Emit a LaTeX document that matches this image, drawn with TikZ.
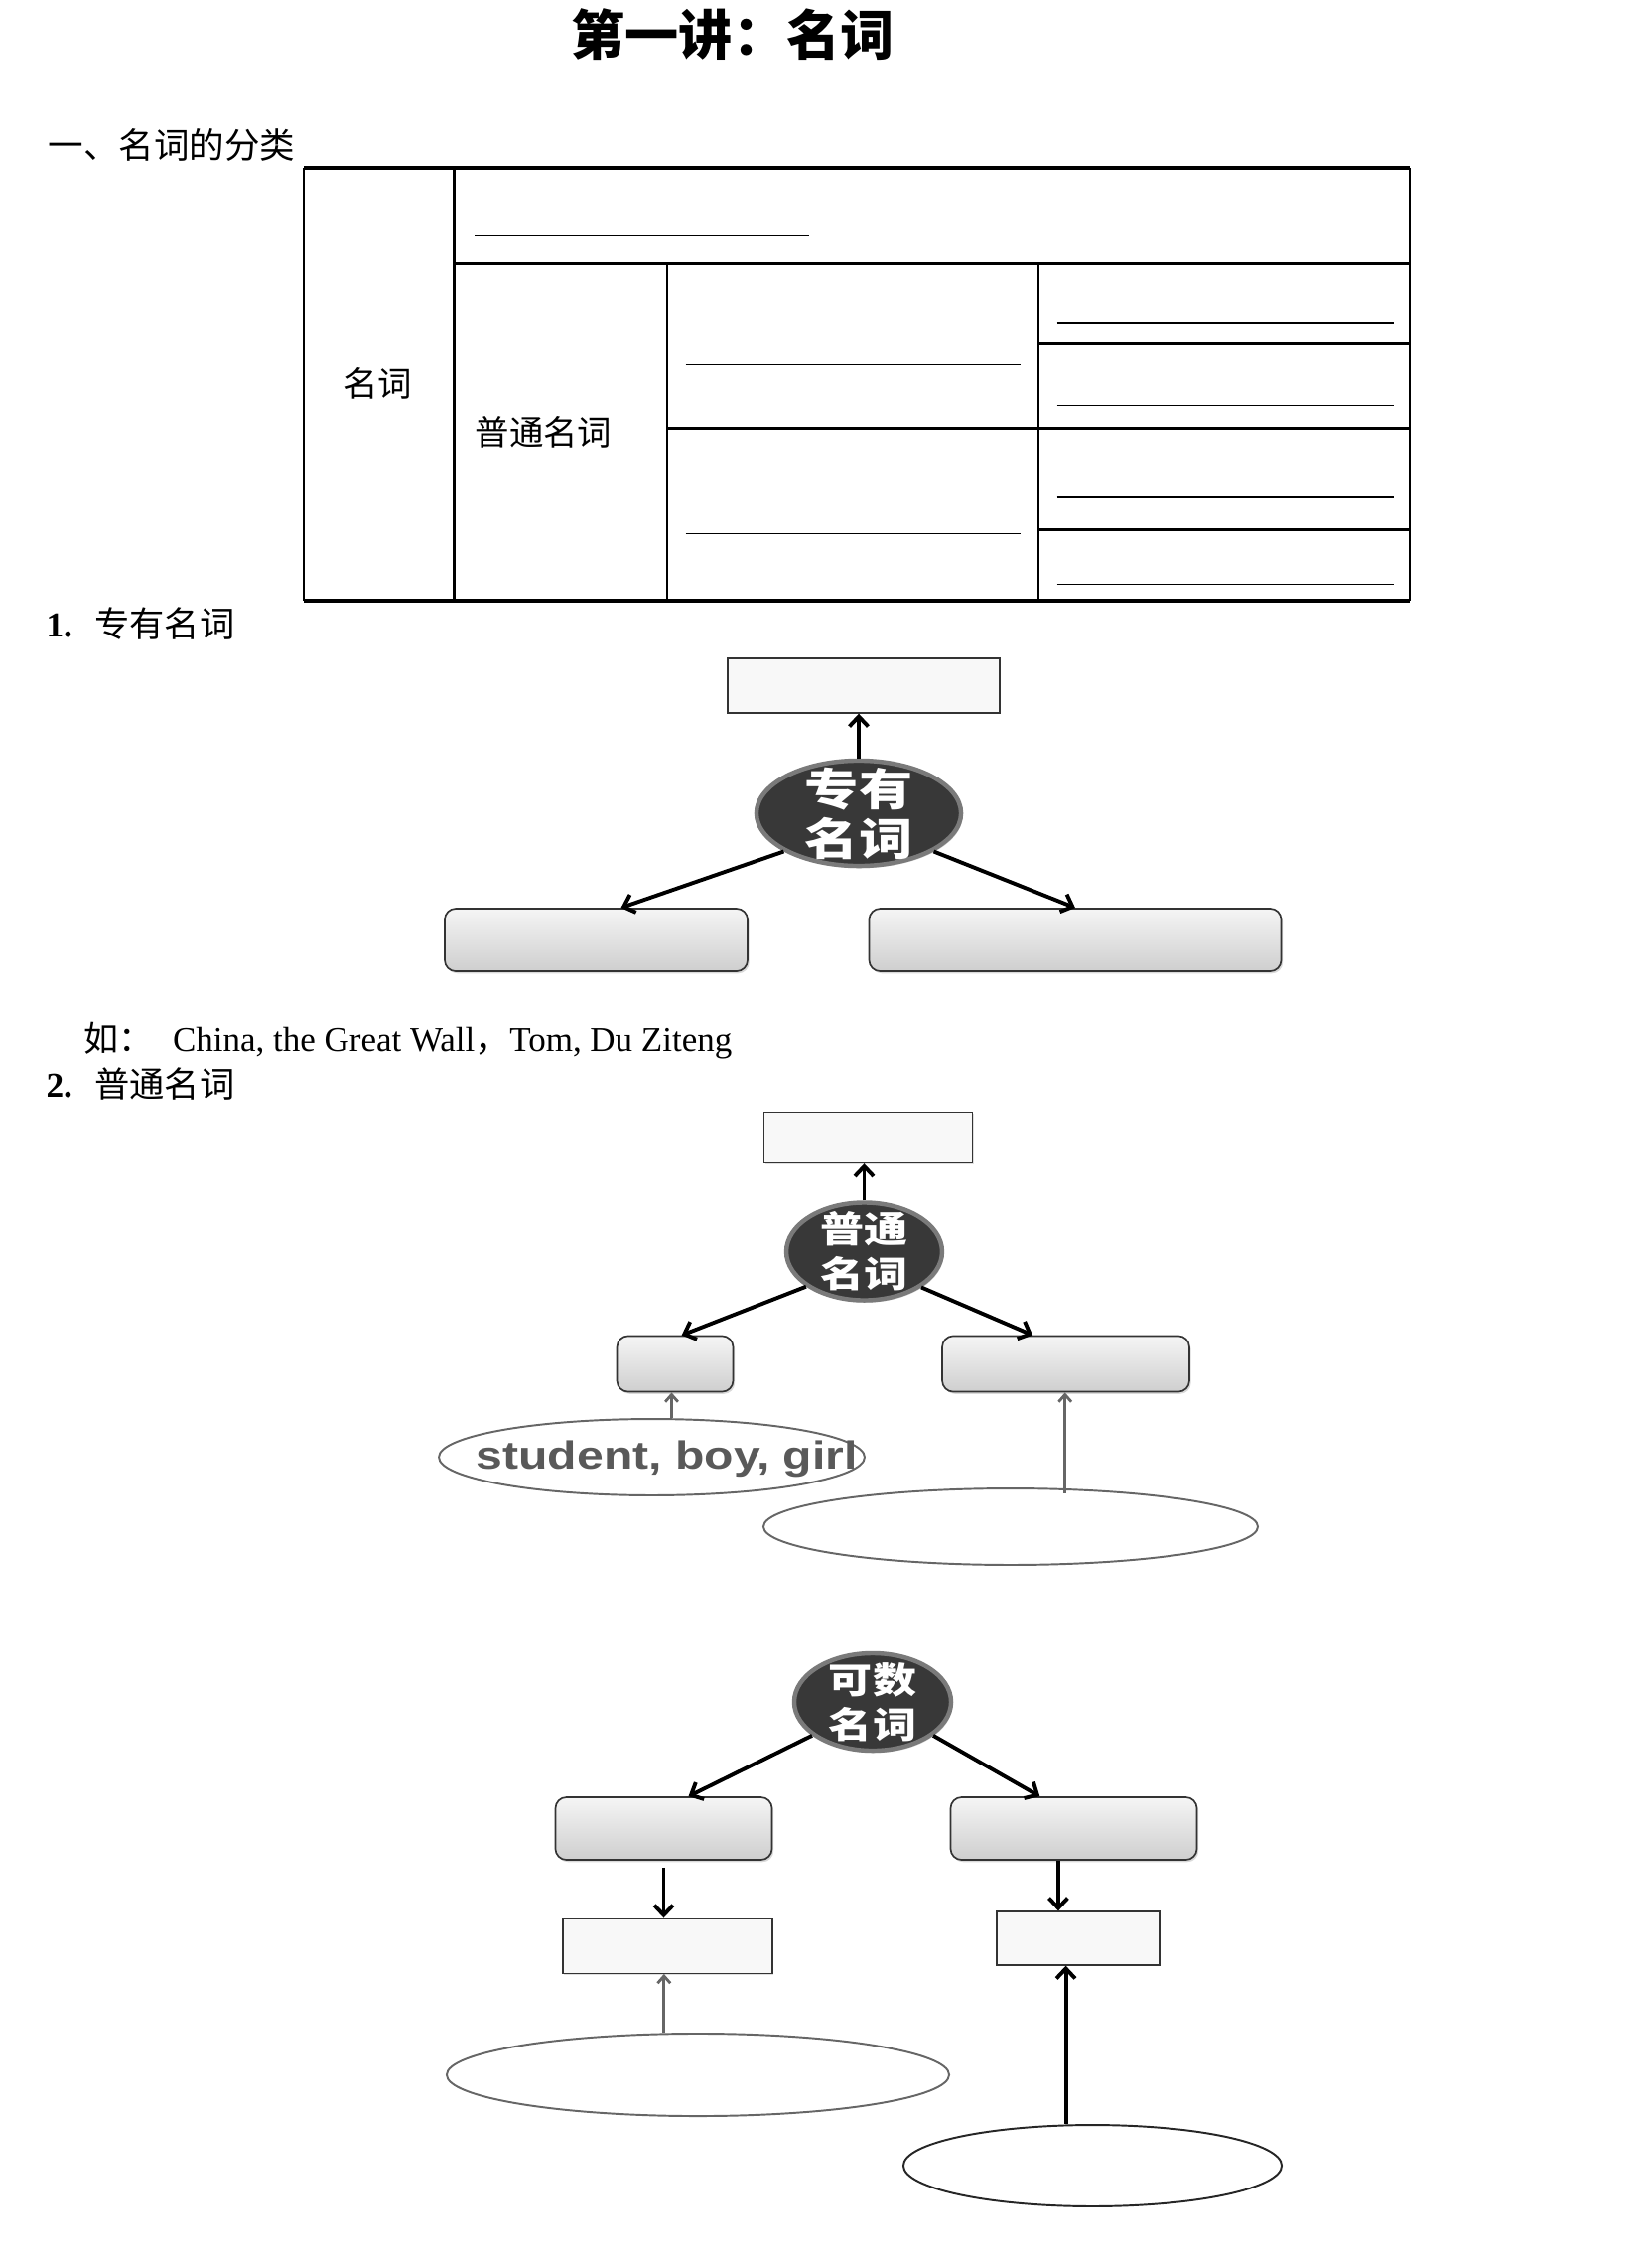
\documentclass[tikz,border=0pt]{standalone}
\usepackage{fontspec}
\setmainfont{Liberation Serif}
\newfontfamily\cjk{Noto Sans CJK SC}
\newfontfamily\cjkwide[FakeStretch=1.22]{Noto Sans CJK SC}
\newfontfamily\sanswide[FakeStretch=1.22]{Liberation Sans}
\usetikzlibrary{arrows.meta}
\usetikzlibrary{shapes.geometric}
\usetikzlibrary{shadows}
\definecolor{headfill}{HTML}{383838}
\definecolor{headring}{HTML}{7A7A7A}
\definecolor{boxline}{HTML}{333333}
\definecolor{pale}{HTML}{F8F8F8}
\definecolor{hintgray}{HTML}{666666}
\definecolor{wordgray}{HTML}{595959}

\begin{document}
\begin{tikzpicture}[x=0.36pt,y=-0.36pt,
    head/.style={ellipse,fill=headfill,draw=headring,line width=1.6pt,inner sep=0pt,
      drop shadow={opacity=0.35,shadow xshift=0.6pt,shadow yshift=-0.8pt}},
    slot/.style={rectangle,draw=boxline,fill=pale,line width=0.5pt,inner sep=0pt,
      drop shadow={opacity=0.25,shadow xshift=0.5pt,shadow yshift=-0.5pt}},
    bar/.style={rectangle,rounded corners=4pt,draw=boxline,line width=0.6pt,inner sep=0pt,
      top color=gray!8,bottom color=gray!38,
      drop shadow={opacity=0.3,shadow xshift=0.6pt,shadow yshift=-0.8pt}},
    oval/.style={ellipse,draw=hintgray,line width=0.7pt,inner sep=0pt},
    link/.style={-{Straight Barb[length=3.6pt,width=6.8pt]},line width=1.4pt},
    hint/.style={-{Straight Barb[length=2.6pt,width=4.6pt]},line width=1pt,draw=hintgray},
    rule/.style={line width=0.5pt}]
\useasboundingbox (0,0) rectangle (1664,2275);

\node[font=\fontsize{19.5}{22}\selectfont\cjk\bfseries] (title) at (738,35) {第一讲：名词};
\node[anchor=west,inner sep=0pt,font=\fontsize{12.8}{15}\selectfont\cjk] (sec) at (48,146) {一、名词的分类};

\draw[line width=1.1pt] (306,169) -- (1420,169);
\draw[line width=1.1pt] (306,605) -- (1420,605);
\draw[line width=0.9pt] (306,169) -- (306,605);
\draw[line width=0.9pt] (1420,169) -- (1420,605);
\draw[line width=0.9pt] (457.5,169) -- (457.5,605);
\draw[line width=0.9pt] (457.5,265.7) -- (1420,265.7);
\draw[line width=0.9pt] (672,265.7) -- (672,605);
\draw[line width=0.9pt] (1046,265.7) -- (1046,605);
\draw[line width=0.9pt] (672,431.7) -- (1420,431.7);
\draw[line width=0.9pt] (1046,345.7) -- (1420,345.7);
\draw[line width=0.9pt] (1046,533.3) -- (1420,533.3);
\draw[rule] (478,237.3) -- (815,237.3);
\draw[rule] (690.7,367.3) -- (1028,367.3);
\draw[rule] (690.7,537.3) -- (1028,537.3);
\foreach \y in {325,408.3,501,588.3}
    \draw[rule] (1064.7,\y) -- (1403.6,\y);
\node[font=\fontsize{12.4}{15}\selectfont\cjk] (noun) at (380.5,386.7) {名词};
\node[anchor=west,inner sep=0pt,font=\fontsize{12.4}{15}\selectfont\cjk] (common) at (478,435) {普通名词};

\node[anchor=west,inner sep=0pt,font=\fontsize{12.7}{15}\selectfont] (h1) at (46,628) {\textbf{1.}\hspace{8pt}{\cjk 专有名词}};

\node[slot,minimum width=98.6pt,minimum height=19.8pt] (t1) at (870,690.5) {};
\node[head,minimum width=74.2pt,minimum height=38.2pt,
    label={[text=white,align=center,font=\fontsize{16}{18}\selectfont\cjkwide\bfseries]center:专有\\名词}] (c1) at (865,819) {};
\node[bar,minimum width=109.8pt,minimum height=22.7pt] (l1) at (600.5,946.5) {};
\node[bar,minimum width=149.4pt,minimum height=22.7pt] (r1) at (1083,946.5) {};
\draw[link] (c1.north) -- (c1.north |- t1.south);
\draw[link] (c1.207) -- ([xshift=9pt]l1.north);
\draw[link] (c1.333) -- (r1.north);

\node[anchor=west,inner sep=0pt,font=\fontsize{12.6}{15}\selectfont] (eg) at (84,1048) {{\cjk 如：}\hspace{7pt}China, the Great Wall{\cjk ，}Tom, Du Ziteng};
\node[anchor=west,inner sep=0pt,font=\fontsize{12.7}{15}\selectfont] (h2) at (46,1092) {\textbf{2.}\hspace{8pt}{\cjk 普通名词}};

\node[slot,minimum width=75.6pt,minimum height=18pt] (t2) at (874.5,1145.5) {};
\node[head,minimum width=56.5pt,minimum height=35.3pt,
    label={[text=white,align=center,font=\fontsize{13}{16.2}\selectfont\cjkwide\bfseries]center:普通\\名词}] (c2) at (870.5,1260.5) {};
\node[bar,minimum width=42.1pt,minimum height=20.2pt] (l2) at (680,1373.5) {};
\node[bar,minimum width=89.6pt,minimum height=20.2pt] (r2) at (1073.5,1373.5) {};
\node[oval,minimum width=154.4pt,minimum height=27.7pt,
    label={[xshift=5.5pt,yshift=-0.6pt,text=wordgray,font=\fontsize{14.2}{16}\selectfont\sanswide\bfseries]center:student, boy, girl}] (e2l) at (656.5,1467.5) {};
\node[oval,minimum width=179.3pt,minimum height=27.7pt] (e2r) at (1018,1537.5) {};
\draw[link] (c2.north) -- (c2.north |- t2.south);
\draw[link] (c2.211) -- ([xshift=2.4pt]l2.north);
\draw[link] (c2.328) -- ([xshift=-12pt]r2.north);
\draw[hint] ([xshift=7.2pt]e2l.north) -- ([xshift=7.2pt]e2l.north |- l2.south);
\draw[hint] ([xshift=19.7pt,yshift=-2pt]e2r.north) -- ([xshift=19.7pt]e2r.north |- r2.south);

\node[head,minimum width=56.9pt,minimum height=35.3pt,
    label={[text=white,align=center,font=\fontsize{13}{16.2}\selectfont\cjkwide\bfseries]center:可数\\名词}] (c3) at (879,1714) {};
\node[bar,minimum width=78.5pt,minimum height=22.7pt] (l3) at (668.5,1841.5) {};
\node[bar,minimum width=89.3pt,minimum height=22.7pt] (r3) at (1081.5,1841.5) {};
\node[slot,minimum width=76pt,minimum height=19.8pt] (b3l) at (672.5,1959.7) {};
\node[slot,minimum width=59pt,minimum height=19.4pt] (b3r) at (1086,1952) {};
\node[oval,minimum width=182.2pt,minimum height=29.9pt] (e3l) at (703,2089.5) {};
\node[oval,draw=black!85,minimum width=137.2pt,minimum height=29.5pt] (e3r) at (1100.5,2181) {};
\draw[link] (c3.209) -- ([xshift=9pt]l3.north);
\draw[link] (c3.331) -- ([xshift=-12.3pt]r3.north);
\draw[link] ([yshift=-2.5pt]l3.south) -- (l3.south |- b3l.north);
\draw[link] ([xshift=-5.6pt]r3.south) -- ([xshift=-5.6pt]r3.south |- b3r.north);
\draw[hint] ([xshift=-12.3pt]e3l.north) -- ([xshift=-12.3pt]e3l.north |- b3l.south);
\draw[link] ([xshift=-9.7pt]e3r.north) -- ([xshift=-9.7pt]e3r.north |- b3r.south);
\end{tikzpicture}
\end{document}
